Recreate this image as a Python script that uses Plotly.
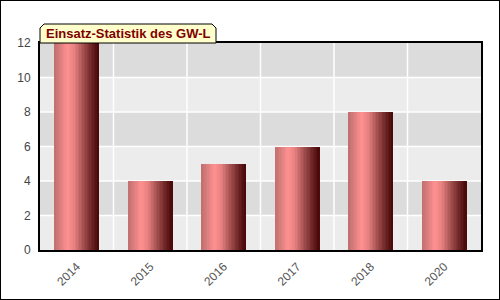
import plotly.graph_objects as go

categories = ["2014", "2015", "2016", "2017", "2018", "2020"]
values = [12, 4, 5, 6, 8, 4]
y_ticks = [0, 2, 4, 6, 8, 10, 12]
title_text = "Einsatz-Statistik des GW-L"

W, H = 500, 300
L, R, T, B = 40, 19, 43, 50
pw, ph = W - L - R, H - T - B

stops = [(0.0, (190, 110, 110)), (0.3, (255, 145, 145)), (0.45, (232, 130, 130)),
         (0.7, (150, 70, 70)), (1.0, (72, 6, 6))]

def grad(t):
    for (a, ca), (b, cb) in zip(stops[:-1], stops[1:]):
        if a <= t <= b:
            f = (t - a) / (b - a)
            return "rgb(%d,%d,%d)" % tuple(round(ca[k] + (cb[k] - ca[k]) * f) for k in range(3))
    return "rgb(%d,%d,%d)" % stops[-1][1]

fig = go.Figure()
N = 30
bw = 0.6
for i in range(N):
    t = (i + 0.5) / N
    fig.add_trace(go.Bar(
        x=categories, y=values, width=bw / N * 1.15, offset=-bw / 2 + i * bw / N,
        marker=dict(color=grad(t), line=dict(width=0)), hoverinfo="skip", showlegend=False))

shapes = []
for k in range(len(y_ticks) - 1):
    if k % 2 == 1:
        shapes.append(dict(type="rect", xref="paper", yref="y", x0=0, x1=1,
                           y0=y_ticks[k], y1=y_ticks[k + 1], fillcolor="#dcdcdc",
                           line=dict(width=0), layer="below"))
for k in range(len(categories) - 1):
    shapes.append(dict(type="line", xref="x", yref="paper", x0=k + 0.5, x1=k + 0.5,
                       y0=0, y1=1, line=dict(color="white", width=1.5), layer="below"))
for v in y_ticks[1:-1]:
    shapes.append(dict(type="line", xref="paper", yref="y", x0=0, x1=1, y0=v, y1=v,
                       line=dict(color="white", width=1.5), layer="below"))

tx1 = 176 / pw
ty1 = 1 + 19 / ph
dx, dy = 4 / pw, 4 / ph
path = (f"M 0,1 L 0,{ty1 - dy} L {dx},{ty1} L {tx1 - dx},{ty1} "
        f"L {tx1},{ty1 - dy} L {tx1},1 Z")
shapes.append(dict(type="path", xref="paper", yref="paper", path=path,
                   fillcolor="#ffffcc", line=dict(color="black", width=1), layer="above"))
shapes.append(dict(type="rect", xref="paper", yref="paper",
                   x0=-L / pw, x1=(W - L) / pw, y0=-B / ph, y1=(H - B) / ph,
                   line=dict(color="black", width=2), fillcolor="rgba(0,0,0,0)"))

fig.update_layout(
    width=W, height=H, margin=dict(l=L, r=R, t=T, b=B),
    paper_bgcolor="white", plot_bgcolor="#ececec",
    barmode="overlay", bargap=0, shapes=shapes,
    font=dict(family="Liberation Sans, Arial, sans-serif", size=11, color="#444"),
    annotations=[dict(text="<b>" + title_text + "</b>", xref="paper", yref="paper",
                      x=4 / pw, y=1 + 9.5 / ph, xanchor="left", yanchor="middle",
                      showarrow=False, font=dict(size=13, color="#800000",
                                                 family="Liberation Sans, Arial, sans-serif"))],
)
fig.update_xaxes(type="category", range=[-0.5, len(categories) - 0.5], showgrid=False,
                 showline=True, linecolor="black", linewidth=2, mirror=True,
                 tickangle=-45, tickfont=dict(color="#555", size=12), ticks="",
                 ticklabelstandoff=3, automargin=False, fixedrange=True)
fig.update_yaxes(range=[0, 12], tickvals=y_ticks, showgrid=False, zeroline=False,
                 showline=True, linecolor="black", linewidth=2, mirror=True,
                 ticks="", ticklabelstandoff=5, tickfont=dict(color="#444", size=12),
                 automargin=False, fixedrange=True)

fig.write_html("out.html", config={"displayModeBar": False})
